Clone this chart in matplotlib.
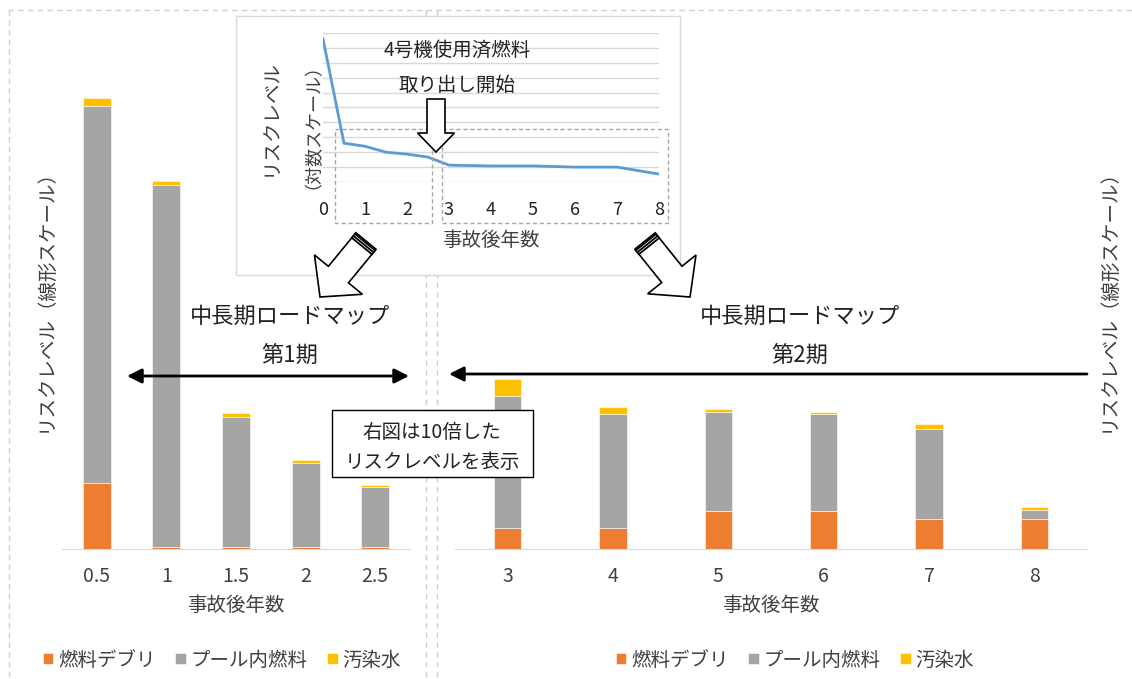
import numpy as np
import matplotlib
matplotlib.use("Agg")
import matplotlib.pyplot as plt
from matplotlib.patches import Rectangle, Polygon
from matplotlib.ticker import NullLocator, FixedLocator

plt.rcParams["font.family"] = ["Noto Sans CJK JP", "DejaVu Sans"]

W, H = 1132, 679
TEXT = "#404040"

# --- data (arbitrary risk units as drawn; phase 2 is shown x10) ---
phase1_years = ["0.5", "1", "1.5", "2", "2.5"]
phase1_debris = [66, 2, 2, 2, 2]
phase1_pool = [377, 362, 130, 84, 60]
phase1_water = [8, 4, 4, 3, 2]

phase2_years = ["3", "4", "5", "6", "7", "8"]
phase2_debris = [21, 21, 38, 38, 30, 30]
phase2_pool = [132, 114, 99, 97, 90, 9]
phase2_water = [17, 7, 3, 2, 5, 3]

log_years = [0, 0.5, 1, 1.5, 2, 2.5, 3, 4, 5, 6, 7, 8]
log_risk = [4.0e9, 4.0e2, 2.5e2, 1.0e2, 7.4e1, 4.7e1, 1.35e1, 1.2e1, 1.2e1, 1.0e1, 1.0e1, 3.4e0]

series_names = ["燃料デブリ", "プール内燃料", "汚染水"]
series_colors = ["#ED7D31", "#A5A5A5", "#FFC000"]


fig = plt.figure(figsize=(W / 100, H / 100), dpi=100)


def px_axes(x0, y0, x1, y1, z):
    ax = fig.add_axes([x0 / W, 1 - y1 / H, (x1 - x0) / W, (y1 - y0) / H], zorder=z)
    return ax


def overlay(z):
    ax = fig.add_axes([0, 0, 1, 1], zorder=z)
    ax.set_xlim(0, W)
    ax.set_ylim(H, 0)
    ax.axis("off")
    return ax


# background: dashed panel dividers and inset frame
bg = overlay(0)
dash = dict(color="#cfcfcf", lw=1, ls=(0, (4, 3)))
bg.plot([8, W], [10, 10], **dash)
bg.plot([9, 9], [10, H], **dash)
bg.plot([426, 426], [10, H], **dash)
bg.plot([437, 437], [10, H], **dash)
bg.add_patch(Rectangle((236, 16), 444, 259, facecolor="white", edgecolor="#d9d9d9", lw=1, zorder=3))


def stacked(ax, labels, debris, pool, water, width):
    x = np.arange(len(labels))
    bottom = np.zeros(len(labels))
    handles = []
    for vals, name, col in zip([debris, pool, water], series_names, series_colors):
        b = ax.bar(x, vals, width, bottom=bottom, color=col, label=name,
                   edgecolor="white", linewidth=0.4)
        handles.append(b)
        bottom = bottom + np.array(vals)
    ax.set_xlim(-0.5, len(labels) - 0.5)
    ax.set_ylim(0, 459)
    ax.set_xticks(x)
    ax.set_xticklabels(labels, fontsize=14, color=TEXT)
    ax.set_yticks([])
    ax.tick_params(axis="x", length=0, pad=12)
    for s in ["top", "left", "right"]:
        ax.spines[s].set_visible(False)
    ax.spines["bottom"].set_color("#d9d9d9")
    ax.set_xlabel("事故後年数", fontsize=14, color=TEXT, labelpad=6)
    ax.patch.set_alpha(0)
    return handles


ax1 = px_axes(62, 90, 410, 549, 1)
h1 = stacked(ax1, phase1_years, phase1_debris, phase1_pool, phase1_water, 0.4)
ax2 = px_axes(455, 90, 1087, 549, 1)
h2 = stacked(ax2, phase2_years, phase2_debris, phase2_pool, phase2_water, 0.26)

leg_kw = dict(ncol=3, frameon=False, loc="center", fontsize=14, handlelength=0.55,
              handleheight=0.55, handletextpad=0.25, columnspacing=1.0,
              bbox_transform=fig.transFigure, labelcolor=TEXT)
ax1.legend(handles=h1, bbox_to_anchor=(222 / W, 1 - 660 / H), **leg_kw)
ax2.legend(handles=h2, bbox_to_anchor=(795 / W, 1 - 660 / H), **leg_kw)

# inset: log-scale risk line
axi = px_axes(323, 33, 659, 182, 2)
axi.plot(log_years, log_risk, color="#5B9BD5", lw=2)
axi.set_yscale("log")
axi.set_ylim(1, 1e10)
axi.set_xlim(0, 8)
axi.yaxis.set_major_locator(FixedLocator([10.0 ** k for k in range(11)]))
axi.yaxis.set_minor_locator(NullLocator())
axi.set_yticklabels([])
axi.grid(axis="y", color="#d9d9d9", lw=1)
axi.set_axisbelow(True)
axi.set_xticks(range(9))
axi.tick_params(axis="x", length=0, pad=14, labelsize=13, labelcolor="#222222")
axi.tick_params(axis="y", length=0)
for s in axi.spines.values():
    s.set_visible(False)
axi.patch.set_alpha(0)

# foreground annotations
fg = overlay(3)


def block_arrow(ax, tail, tip, shaft_w, head_w, head_len, stripes=False):
    tail = np.array(tail, float)
    tip = np.array(tip, float)
    d = (tip - tail) / np.linalg.norm(tip - tail)
    n = np.array([-d[1], d[0]])
    base = tip - d * head_len
    pts = [tail + n * shaft_w / 2, base + n * shaft_w / 2, base + n * head_w / 2, tip,
           base - n * head_w / 2, base - n * shaft_w / 2, tail - n * shaft_w / 2]
    ax.add_patch(Polygon(pts, closed=True, facecolor="white", edgecolor="black", lw=1.2, zorder=4))
    if stripes:
        for off in [1.5, 4, 6.5]:
            c = tail + d * off
            ax.plot([c[0] - n[0] * shaft_w / 2, c[0] + n[0] * shaft_w / 2],
                    [c[1] - n[1] * shaft_w / 2, c[1] + n[1] * shaft_w / 2],
                    color="black", lw=1.3, zorder=5)


# inset texts
fg.text(457, 50, "4号機使用済燃料", fontsize=14, color="#222222", ha="center", va="center")
fg.text(457, 85, "取り出し開始", fontsize=14, color="#222222", ha="center", va="center")
fg.text(491, 240, "事故後年数", fontsize=14, color=TEXT, ha="center", va="center")
fg.text(270, 117, "リスクレベル", fontsize=14, color=TEXT, ha="center", va="center", rotation=90)
fg.text(304, 117, "（対数スケール）", fontsize=13, color=TEXT, ha="center", va="center", rotation=90)
block_arrow(fg, (436, 99), (436, 152), 18, 37, 19)
box_kw = dict(fill=False, edgecolor="#a6a6a6", lw=1, ls=(0, (3, 2)), zorder=3)
fg.add_patch(Rectangle((335, 129), 97, 94, **box_kw))
fg.add_patch(Rectangle((442, 129), 226, 94, **box_kw))

# zoom arrows
block_arrow(fg, (366, 241), (320, 297), 26, 62, 29, stripes=True)
block_arrow(fg, (645, 241), (690, 297), 26, 62, 29, stripes=True)

# roadmap phases
fg.text(290, 316, "中長期ロードマップ", fontsize=16, color="#222222", ha="center", va="center")
fg.text(290, 355, "第1期", fontsize=16, color="#222222", ha="center", va="center")
fg.text(800, 316, "中長期ロードマップ", fontsize=16, color="#222222", ha="center", va="center")
fg.text(800, 355, "第2期", fontsize=16, color="#222222", ha="center", va="center")
fg.annotate("", xy=(409, 376), xytext=(127, 376),
            arrowprops=dict(arrowstyle="<|-|>", lw=2, color="black", mutation_scale=22,
                            shrinkA=0, shrinkB=0))
fg.annotate("", xy=(449, 374), xytext=(1087, 374),
            arrowprops=dict(arrowstyle="-|>", lw=2, color="black", mutation_scale=22,
                            shrinkA=0, shrinkB=0))

# note box
fg.add_patch(Rectangle((332, 410), 201, 67, facecolor="white", edgecolor="black", lw=1, zorder=3))
fg.text(432, 433, "右図は10倍した", fontsize=14, color="#222222", ha="center", va="center", zorder=4)
fg.text(432, 463, "リスクレベルを表示", fontsize=14, color="#222222", ha="center", va="center", zorder=4)

# y labels
fg.text(45, 295, "リスクレベル（線形スケール）", fontsize=14, color=TEXT, ha="center", va="center", rotation=90)
fg.text(1108, 295, "リスクレベル（線形スケール）", fontsize=14, color=TEXT, ha="center", va="center", rotation=90)

fig.savefig("out.png", dpi=100)
plt.close(fig)
